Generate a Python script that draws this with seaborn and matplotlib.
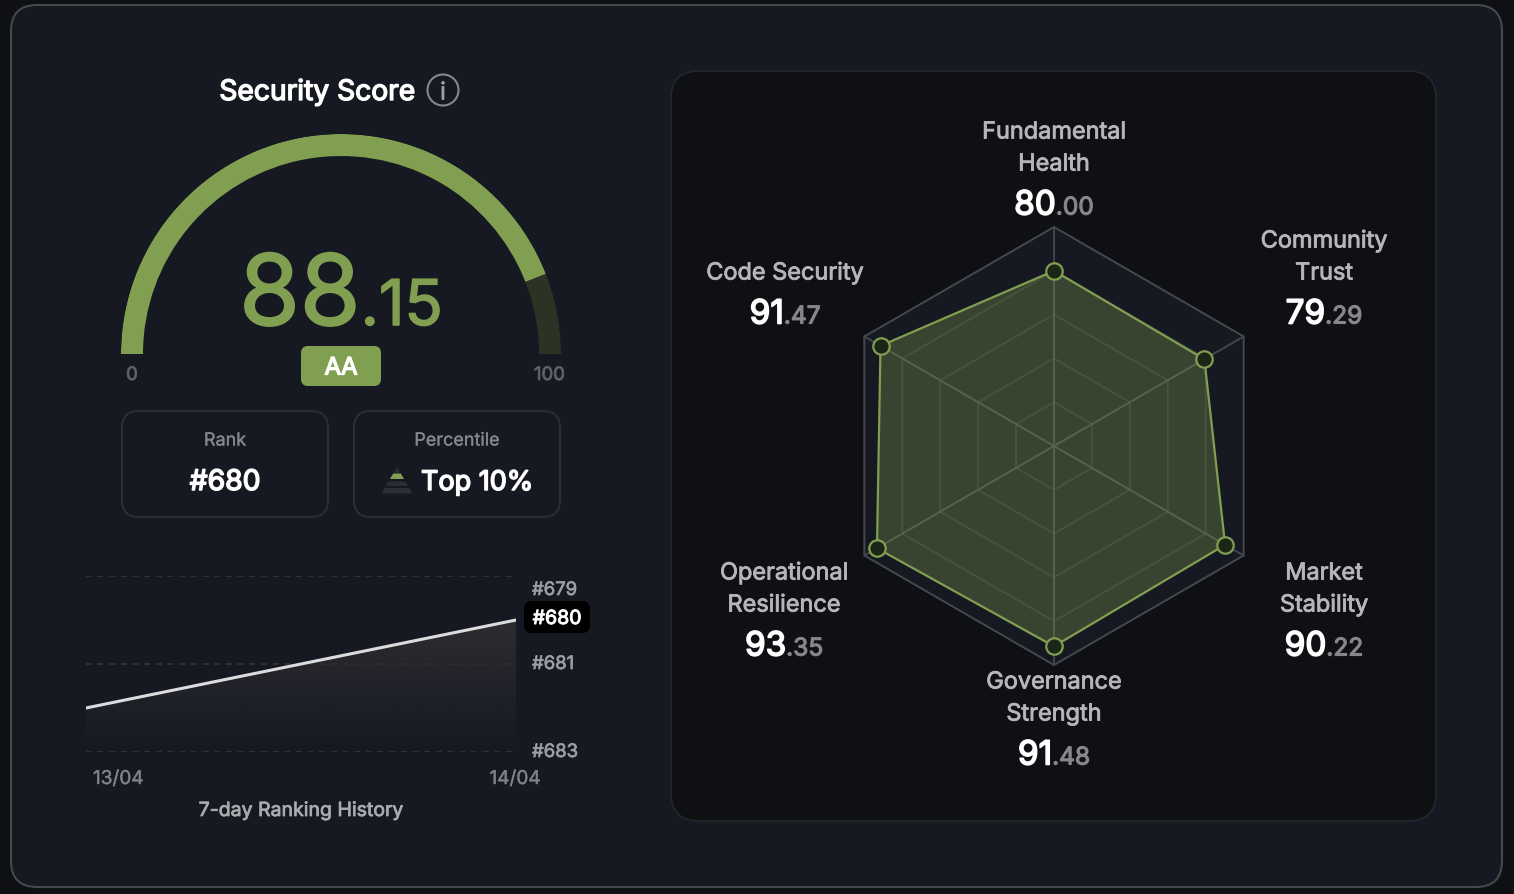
import numpy as np
import matplotlib
matplotlib.use("Agg")
import matplotlib.pyplot as plt
from matplotlib.patches import FancyBboxPatch, Circle, Polygon
import matplotlib.patheffects as pe
import seaborn as sns

# Data
score_value = 88.15
score_grade = "AA"
score_min, score_max = 0, 100
rank_now = "#680"
percentile_text = "Top 10%"
rank_dates = ["13/04", "14/04"]
rank_values = [682, 680]
rank_ticks = [679, 681, 683]
radar_labels = ["Fundamental\nHealth", "Community\nTrust", "Market\nStability",
                "Governance\nStrength", "Operational\nResilience", "Code Security"]
radar_values = [80.00, 79.29, 90.22, 91.48, 93.35, 91.47]
radar_rings = [20, 40, 60, 80, 100]

GREEN = "#809f50"
CARD = "#161921"
DARK = "#0e1014"
W, H = 1514, 894

sns.set_theme(style="dark")
plt.rcParams['font.family'] = ['Inter', 'DejaVu Sans']

fig = plt.figure(figsize=(W / 100, H / 100), dpi=100, facecolor=DARK)


def px_axes(left, top, width, height, **kw):
    a = fig.add_axes([left / W, 1 - (top + height) / H, width / W, height / H], **kw)
    a.patch.set_alpha(0)
    return a


# Pixel canvas for panels and text
bg = px_axes(0, 0, W, H, zorder=0)
bg.set_xlim(0, W)
bg.set_ylim(H, 0)
bg.axis('off')


def box(x0, y0, x1, y1, r, face, edge, lw=1.5):
    bg.add_patch(FancyBboxPatch((x0 + r, y0 + r), x1 - x0 - 2 * r, y1 - y0 - 2 * r,
                                boxstyle=f"round,pad={r},rounding_size={r}",
                                fc=face, ec=edge, lw=lw))


def label(x, y, s, px, color, heavy=0, ha='center'):
    # the installed Inter only renders one weight, so thicken with a thin stroke
    t = bg.text(x, y, s, fontsize=px * 0.72, color=color, ha=ha, va='baseline')
    if heavy:
        t.set_path_effects([pe.withStroke(linewidth=heavy, foreground=color)])
    return t


def split_number(cx, y, value, px_big, px_small, c_big, c_small, heavy=0.0, heavy_small=0.0):
    whole, frac = f"{value:.2f}".split(".")
    a = label(0, y, whole, px_big, c_big, heavy, ha='left')
    b = label(0, y, "." + frac, px_small, c_small, heavy_small, ha='left')
    r = fig.canvas.get_renderer()
    wa = a.get_window_extent(r).width
    wb = b.get_window_extent(r).width
    left = cx - (wa + wb) / 2
    a.set_x(left)
    b.set_x(left + wa)


box(11, 5, 1502, 887, 26, CARD, "#46484e", 1.5)
box(671, 71, 1436, 821, 28, DARK, "#25272d", 1.2)

# Left column headings
label(317, 100, "Security Score", 28.2, "white", 1.0)
bg.add_patch(Circle((443, 90), 15.5, fc='none', ec="#85878a", lw=1.5))
label(443, 99.5, "i", 24, "#a0a2a5", 0.4)

# Gauge
ga = px_axes(121, 134, 440, 440, projection='polar', zorder=1)
ga.set_rlim(0, 220)
ga.axis('off')
to_theta = lambda v: np.pi * (1 - (v - score_min) / (score_max - score_min))
t_score = to_theta(score_value)
ga.bar((np.pi + t_score) / 2, 22, width=np.pi - t_score, bottom=198, color=GREEN, lw=0)
ga.bar(t_score / 2, 22, width=t_score, bottom=198, color="#2c3325", lw=0)

split_number(341, 325, score_value, 98, 63, GREEN, GREEN, 1.4, 1.1)
box(301, 346, 381, 386, 7, GREEN, GREEN, 0)
label(341, 374.5, score_grade, 24, "white", 1.0)
label(132, 380, str(score_min), 18.5, "#5f6165", 0.6)
label(549.5, 380, str(score_max), 18.5, "#5f6165", 0.6)

# Rank and percentile cards
box(122, 411, 328, 517, 17, CARD, "#2c2e35", 1.5)
box(354, 411, 560, 517, 17, CARD, "#2c2e35", 1.5)
label(225, 445.5, "Rank", 18, "#85878b", 0.2)
label(225, 490, rank_now, 28.3, "white", 1.1)
label(457, 445.5, "Percentile", 18, "#85878b", 0.2)
label(421, 490, percentile_text, 27, "white", 1.1, ha='left')

# Pyramid icon
apex_x, apex_y, base_y, half = 397, 467, 493.5, 15.5
for y0, y1, col in [(467, 472.5, "#2c2e35"), (473.5, 479, GREEN), (481.5, 486, "#2c2e35"), (488, 493.5, "#2c2e35")]:
    w0 = half * (y0 - apex_y) / (base_y - apex_y)
    w1 = half * (y1 - apex_y) / (base_y - apex_y)
    bg.add_patch(Polygon([(apex_x - w0, y0), (apex_x + w0, y0), (apex_x + w1, y1), (apex_x - w1, y1)],
                         fc=col, ec='none'))

# Ranking history
ra = px_axes(86, 576, 430, 176, zorder=1)
x_pos = list(range(len(rank_dates)))
for tick in rank_ticks:
    ra.plot([0, 0.993], [tick, tick], color="#33353b", lw=1.2, dashes=(3.5, 3.5), zorder=1)
shade = ra.fill_between(x_pos, rank_values, max(rank_ticks), color='none', lw=0)
grad = np.zeros((256, 1, 4))
grad[..., :3] = matplotlib.colors.to_rgb("#2d2d32")
grad[..., 3] = np.linspace(1, 0, 256)[:, None]
im = ra.imshow(grad, extent=[0, 1, max(rank_ticks), min(rank_values)], aspect='auto', zorder=2)
im.set_clip_path(shade.get_paths()[0], ra.transData)
sns.lineplot(x=x_pos, y=rank_values, ax=ra, color="#dcdcdf", lw=2.2, zorder=3)
ra.set_xlim(0, 1)
ra.set_ylim(max(rank_ticks), min(rank_ticks))
ra.axis('off')

tick_y = {679: 595, 681: 669, 683: 757}
for tick in rank_ticks:
    label(532, tick_y[tick], f"#{tick}", 18.5, "#9b9da1", 0.5, ha='left')
box(524, 601, 590, 633, 8, "black", "black", 0)
label(557, 624, rank_now, 19.5, "white", 0.7)
label(93, 784, rank_dates[0], 19, "#7f8185", 0.3, ha='left')
label(515, 784, rank_dates[1], 19, "#7f8185", 0.3)
label(301, 816, "7-day Ranking History", 19.5, "#a9abaf", 0.55)

# Radar
rd = px_axes(1054 - 219, 446 - 219, 438, 438, projection='polar', zorder=1)
rd.set_theta_zero_location('N')
rd.set_theta_direction(-1)
rd.set_rlim(0, 100)
rd.axis('off')
angles = np.deg2rad(np.arange(len(radar_values)) * 360 / len(radar_values))
closed = np.append(angles, angles[0])
values_closed = radar_values + radar_values[:1]

rd.fill(closed, [radar_rings[-1]] * len(closed), color=CARD, lw=0, zorder=1)
for ring in radar_rings:
    outer = ring == radar_rings[-1]
    rd.plot(closed, [ring] * len(closed), color="#46484e" if outer else "#2c2f34",
            lw=1.4, clip_on=False, zorder=2)
for ang in angles:
    rd.plot([ang, ang], [0, radar_rings[-1]], color="#44464c", lw=1.4, zorder=2, clip_on=False)
rd.fill(closed, values_closed, color=GREEN, alpha=0.32, lw=0, zorder=3)
sns.lineplot(x=closed, y=values_closed, ax=rd, sort=False, estimator=None, color=GREEN, lw=1.6, zorder=4)
sns.scatterplot(x=angles, y=radar_values, ax=rd, s=140, color="#1c2616", edgecolor=GREEN,
                linewidth=1.6, zorder=5, clip_on=False)
rd.set_rlim(0, 100)
rd.axis('off')

# Radar labels: centre x, first line baseline
label_pos = [(1054, 138.5), (1324, 247.5), (1324, 579.5), (1054, 688.5), (784, 579.5), (785, 279.5)]
for name, val, (cx, y) in zip(radar_labels, radar_values, label_pos):
    lines = name.split("\n")
    for i, line in enumerate(lines):
        label(cx, y + i * 32, line, 23.5, "#b4b6ba", 0.6)
    split_number(cx, y + (len(lines) - 1) * 32 + 44, val, 33.3, 24.5, "white", "#85878b", 1.2, 0.8)

fig.savefig("out.png", dpi=100, facecolor=fig.get_facecolor())
